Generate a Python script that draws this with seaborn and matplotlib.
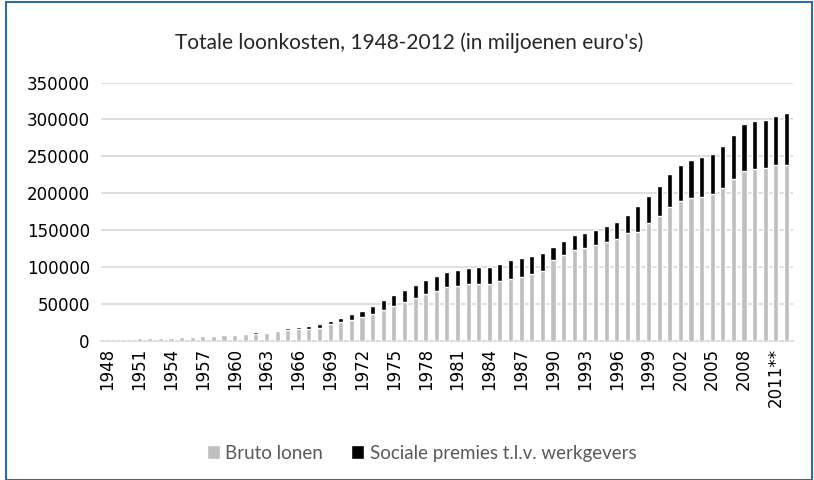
import seaborn as sns
import matplotlib.pyplot as plt
import pandas as pd
from matplotlib.patches import Rectangle, Patch

# Totale loonkosten 1948-2012, in miljoenen euro's
years = [str(y) for y in range(1948, 2011)] + ['2011**', '2012']

bruto_lonen = [
    2700, 2900, 3100, 3400, 3500, 3900, 4400, 4900, 5400, 6000,
    6900, 7300, 8400, 8900, 9600, 10700, 13000, 14200, 15400, 16500,
    18000, 22500, 25200, 28800, 32900, 36900, 42300, 47700, 53100, 58600,
    63500, 68000, 72500, 73900, 76600, 76600, 77500, 80600, 83800, 86900,
    90100, 94600, 109000, 115800, 122500, 126100, 129700, 133300, 137400, 146400,
    147800, 159000, 169800, 181600, 189200, 193300, 195100, 198700, 206800, 218900,
    230200, 232900, 233800, 237900, 237900,
]

sociale_premies = [
    400, 400, 450, 500, 500, 550, 650, 700, 800, 900,
    1100, 1200, 1400, 1500, 1700, 1900, 2300, 2600, 2900, 3300,
    4500, 5000, 5900, 7700, 7600, 9900, 12700, 14000, 15800, 16600,
    18500, 20300, 21200, 21600, 22100, 23900, 23000, 23000, 25200, 25700,
    25200, 24800, 17600, 18900, 20300, 20300, 20300, 21700, 23400, 23900,
    35100, 37000, 40600, 44600, 48700, 51300, 54500, 54500, 57200, 60000,
    64000, 64400, 65800, 66600, 70200,
]

df = pd.DataFrame({'jaar': years, 'bruto': bruto_lonen, 'sociaal': sociale_premies})
df['totaal'] = df['bruto'] + df['sociaal']

sns.set_style('white')
plt.rcParams['font.family'] = ['DejaVu Sans']

fig = plt.figure(figsize=(8.14, 4.8), dpi=100)
ax = fig.add_axes([0.124, 0.290, 0.850, 0.538])

# stacked bars: total in black, gross wages in grey drawn over it
sns.barplot(x='jaar', y='totaal', data=df, order=years, color='#000000',
            width=0.48, saturation=1, ax=ax, zorder=2)
sns.barplot(x='jaar', y='bruto', data=df, order=years, color='#BFBFBF',
            width=0.48, saturation=1, ax=ax, zorder=3)

ax.set_ylim(0, 350000)
ax.set_yticks(range(0, 350001, 50000))
ax.yaxis.grid(True, color='#D9D9D9', linewidth=1.2, zorder=0)
ax.set_axisbelow(True)
ax.set_xlim(-0.6, len(years) - 0.4)
ax.set_xticks(range(0, len(years), 3))
ax.set_xticklabels(years[::3], rotation=90)
ax.tick_params(axis='both', length=0, labelsize=12, colors='#000000')
ax.tick_params(axis='x', pad=5)
ax.tick_params(axis='y', pad=8)
ax.set_xlabel('')
ax.set_ylabel('')
for s in ['top', 'right', 'left']:
    ax.spines[s].set_visible(False)
ax.spines['bottom'].set_color('#D9D9D9')
ax.spines['bottom'].set_linewidth(1.2)

fig.text(0.503, 0.912, "Totale loonkosten, 1948-2012 (in miljoenen euro's)",
         ha='center', va='center', fontsize=15, family=['Lato', 'DejaVu Sans'])

handles = [Patch(facecolor='#BFBFBF', label='Bruto lonen'),
           Patch(facecolor='#000000', label='Sociale premies t.l.v. werkgevers')]
leg = fig.legend(handles=handles, loc='center', bbox_to_anchor=(0.518, 0.056), ncol=2,
                 frameon=False, handlelength=0.7, handleheight=0.7, handletextpad=0.3,
                 columnspacing=1.5, prop={'family': ['Lato', 'DejaVu Sans'], 'size': 13.5})
for t in leg.get_texts():
    t.set_color('#595959')

fig.patches.append(Rectangle((0.007, 0.0), 0.990, 0.995, transform=fig.transFigure,
                             fill=False, edgecolor='#2E6DA4', linewidth=1.5))

fig.savefig('out.png', dpi=100)
